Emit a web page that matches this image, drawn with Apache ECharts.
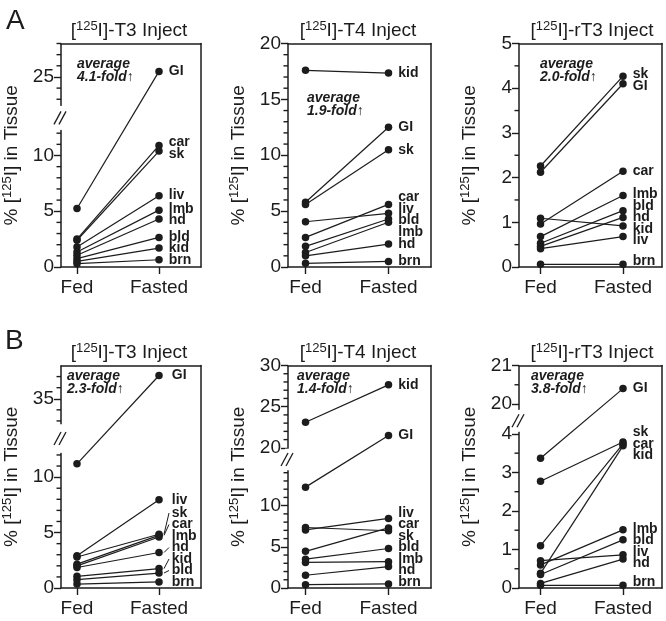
<!DOCTYPE html>
<html><head><meta charset="utf-8">
<script src="https://cdn.jsdelivr.net/npm/echarts@6/dist/echarts.min.js"></script>
<style>html,body{margin:0;padding:0;background:#fff}#c{width:666px;height:621px}</style>
</head><body><div id="c"></div>
<script>
// ---------------- data ----------------
const conditions = ['Fed', 'Fasted'];

// Panel A: T3 inject
const a1Tissues = ['GI', 'car', 'sk', 'liv', 'lmb', 'hd', 'bld', 'kid', 'brn'];
const a1Fed     = [5.25, 2.5, 2.4, 1.8, 1.35, 1.05, 0.75, 0.5, 0.3];
const a1Fasted  = [25.5, 10.9, 10.4, 6.4, 5.1, 4.3, 2.65, 1.7, 0.65];
const a1Fold = '4.1';
const a1Major = [0, 5, 10, 25];
const a1Minor = [1, 2, 3, 4, 6, 7, 8, 9, 11, 12, 23, 24, 26, 27, 28];

// Panel A: T4 inject
const a2Tissues = ['kid', 'GI', 'sk', 'car', 'liv', 'bld', 'lmb', 'hd', 'brn'];
const a2Fed     = [17.6, 5.8, 5.6, 2.65, 4.05, 1.85, 1.3, 1.0, 0.33];
const a2Fasted  = [17.35, 12.5, 10.5, 5.6, 4.8, 4.3, 4.0, 2.05, 0.5];
const a2Fold = '1.9';
const a2Major = [0, 5, 10, 15, 20];
const a2Minor = [1, 2, 3, 4, 6, 7, 8, 9, 11, 12, 13, 14, 16, 17, 18, 19];

// Panel A: rT3 inject
const a3Tissues = ['sk', 'GI', 'car', 'lmb', 'bld', 'hd', 'kid', 'liv', 'brn'];
const a3Fed     = [2.26, 2.12, 0.96, 0.68, 0.53, 0.46, 1.09, 0.41, 0.06];
const a3Fasted  = [4.27, 4.10, 2.14, 1.60, 1.26, 1.11, 0.92, 0.68, 0.06];
const a3Fold = '2.0';
const a3Major = [0, 1, 2, 3, 4, 5];
const a3Minor = [0.5, 1.5, 2.5, 3.5, 4.5];

// Panel B: T3 inject
const b1Tissues = ['GI', 'liv', 'sk', 'car', 'lmb', 'hd', 'kid', 'bld', 'brn'];
const b1Fed     = [11.2, 2.9, 2.8, 2.15, 2.0, 1.85, 1.05, 0.75, 0.35];
const b1Fasted  = [37.1, 7.95, 4.85, 4.75, 4.6, 3.2, 1.75, 1.35, 0.55];
const b1Fold = '2.3';
const b1Major = [0, 5, 10, 35];
const b1Minor = [1, 2, 3, 4, 6, 7, 8, 9, 11, 12, 33, 34, 36, 37];

// Panel B: T4 inject
const b2Tissues = ['kid', 'GI', 'liv', 'car', 'sk', 'bld', 'lmb', 'hd', 'brn'];
const b2Fed     = [23.1, 12.25, 7.05, 4.45, 7.35, 3.5, 3.1, 1.55, 0.4];
const b2Fasted  = [27.65, 21.5, 8.45, 7.3, 6.95, 4.8, 3.2, 2.6, 0.5];
const b2Fold = '1.4';
const b2Major = [0, 5, 10, 20, 25, 30];
const b2Minor = [1, 2, 3, 4, 6, 7, 8, 9, 11, 12, 13, 14, 21, 22, 23, 24, 26, 27, 28, 29];

// Panel B: rT3 inject
const b3Tissues = ['GI', 'sk', 'car', 'kid', 'lmb', 'bld', 'liv', 'hd', 'brn'];
const b3Fed     = [3.37, 2.77, 1.10, 0.38, 0.60, 0.35, 0.71, 0.12, 0.07];
const b3Fasted  = [20.4, 3.79, 3.74, 3.69, 1.51, 1.25, 0.86, 0.75, 0.07];
const b3Fold = '3.8';
const b3Major = [0, 1, 2, 3, 4, 20, 21];
const b3Minor = [0.5, 1.5, 2.5, 3.5, 20.5];

const tracers = ['T3', 'T4', 'rT3', 'T3', 'T4', 'rT3'];

// ---------------- layout (positions / styles) ----------------
const FONT = '"Liberation Sans", Arial, Helvetica, sans-serif';
const INK = '#1c1c1c';
const LABEL_GAP = 11.5;
const panels = [
  {tissues: a1Tissues, fed: a1Fed, fasted: a1Fasted, fold: a1Fold, major: a1Major, minor: a1Minor},
  {tissues: a2Tissues, fed: a2Fed, fasted: a2Fasted, fold: a2Fold, major: a2Major, minor: a2Minor},
  {tissues: a3Tissues, fed: a3Fed, fasted: a3Fasted, fold: a3Fold, major: a3Major, minor: a3Minor},
  {tissues: b1Tissues, fed: b1Fed, fasted: b1Fasted, fold: b1Fold, major: b1Major, minor: b1Minor},
  {tissues: b2Tissues, fed: b2Fed, fasted: b2Fasted, fold: b2Fold, major: b2Major, minor: b2Minor},
  {tissues: b3Tissues, fed: b3Fed, fasted: b3Fasted, fold: b3Fold, major: b3Major, minor: b3Minor}
];
const cols = [
  {left: 61, width: 140, xMin: -0.195, xMax: 1.512, cx: 129},
  {left: 288, width: 143, xMin: -0.211, xMax: 1.512, cx: 358},
  {left: 519, width: 143, xMin: -0.261, xMax: 1.473, cx: 592}
];
const rows = [
  {top: 43.5, height: 223.5, headY: 20},
  {top: 365.5, height: 222.5, headY: 342}
];
const layout = [
  {yMax: 28, brk: {start: 12.3, end: 22.4, gap: '10.7%'}, avg: [77, 58], leader: false},
  {yMax: 20, brk: null, avg: [307, 92], leader: false},
  {yMax: 5, brk: null, avg: [540, 58], leader: false},
  {yMax: 38, brk: {start: 12.2, end: 32.7, gap: '12.8%'}, avg: [67, 370], leader: true},
  {yMax: 30, brk: {start: 14.3, end: 19.9, gap: '9.7%'}, avg: [297, 370], leader: false},
  {yMax: 21, brk: {start: 4.06, end: 19.85, gap: '9.8%'}, avg: [531, 370], leader: false}
];
const MINOR_LEN = 4.5;

const supRich = {sup: {fontSize: 13, fontFamily: FONT, color: INK, verticalAlign: 'top', lineHeight: 13}};

const grid = [], xAxis = [], yAxis = [], series = [], texts = [], seriesStart = [];
panels.forEach((p, i) => {
  const C = cols[i % 3], R = rows[Math.floor(i / 3)], L = layout[i];
  grid.push({left: C.left, top: R.top, width: C.width, height: R.height});
  const line = {show: true, onZero: false, lineStyle: {color: INK, width: 1.5}};
  xAxis.push({
    gridIndex: i, type: 'value', min: C.xMin, max: C.xMax, position: 'bottom',
    axisLine: line,
    axisTick: {show: true, customValues: [0, 1], length: 7, lineStyle: {color: INK, width: 1.4}},
    axisLabel: {show: true, customValues: [0, 1], formatter: v => conditions[Math.round(v)],
      fontSize: 19, color: INK, fontFamily: FONT, margin: 11},
    splitLine: {show: false}
  });
  xAxis.push({
    gridIndex: i, type: 'value', min: 0, max: 1, position: 'top',
    axisLine: line, axisTick: {show: false}, axisLabel: {show: false}, splitLine: {show: false}
  });
  const yBase = {gridIndex: i, type: 'value', min: 0, max: L.yMax, splitLine: {show: false}};
  if (L.brk) { yBase.breaks = [L.brk]; yBase.breakArea = {show: false}; }
  yAxis.push(Object.assign({}, yBase, {
    position: 'left', axisLine: line,
    axisTick: {show: true, customValues: p.major, length: 7, lineStyle: {color: INK, width: 1.4}},
    axisLabel: {show: true, customValues: p.major, fontSize: 19, color: INK, fontFamily: FONT, margin: 7},
    name: '% [{sup|125}I] in Tissue', nameLocation: 'middle', nameGap: 38,
    nameTextStyle: {fontSize: 19, color: INK, fontFamily: FONT, lineHeight: 22, rich: supRich}
  }));
  yAxis.push({
    gridIndex: i, type: 'value', min: 0, max: 1, position: 'right',
    axisLine: line, axisTick: {show: false}, axisLabel: {show: false}, splitLine: {show: false}
  });
  seriesStart.push(series.length);
  p.tissues.forEach((t, k) => {
    series.push({
      type: 'line', name: t, xAxisIndex: 2 * i, yAxisIndex: 2 * i,
      data: [[0, p.fed[k]], {value: [1, p.fasted[k]], label: {show: true, offset: [0, 0]}}],
      symbol: 'circle', symbolSize: 7.5, showSymbol: true,
      itemStyle: {color: INK}, lineStyle: {color: INK, width: 1.2},
      label: {show: false, position: 'right', distance: 6, formatter: '{a}',
        fontSize: 14, fontWeight: 'bold', fontFamily: FONT, color: INK, lineHeight: 12},
      emphasis: {disabled: true}, animation: false, silent: true
    });
  });
  texts.push({
    type: 'text', x: C.cx, y: R.headY, z: 50,
    style: {text: '[{sup|125}I]-' + tracers[i] + ' Inject', fontSize: 19, fontFamily: FONT, fill: INK,
      align: 'center', lineHeight: 22, rich: {sup: {fontSize: 13, fontFamily: FONT, fill: INK, verticalAlign: 'top', lineHeight: 13}}}
  });
  texts.push({
    type: 'text', x: L.avg[0], y: L.avg[1], z: 50,
    style: {text: 'average\n' + p.fold + '-fold\u2191', font: 'italic bold 14px ' + FONT, fill: INK, lineHeight: 13}
  });
});
texts.push({type: 'text', x: 6, y: 7, z: 50, style: {text: 'A', font: '28px ' + FONT, fill: INK}});
texts.push({type: 'text', x: 5, y: 327, z: 50, style: {text: 'B', font: '28px ' + FONT, fill: INK}});

const chart = echarts.init(document.getElementById('c'));
chart.setOption({
  animation: false, backgroundColor: '#fff',
  textStyle: {fontFamily: FONT},
  grid, xAxis, yAxis, series
});

// pixel y of a value on panel i's y axis (through the cartesian's own scale)
function yPix(i, v) {
  const pt = chart.convertToPixel({xAxisIndex: 2 * i, yAxisIndex: 2 * i}, [0, v]);
  return pt ? pt[1] : NaN;
}

const marks = [];
// ---- minor ticks, placed with the y axis scale ----
panels.forEach((p, i) => {
  const C = cols[i % 3];
  p.minor.forEach(v => {
    const y = yPix(i, v);
    if (!isFinite(y)) return;
    marks.push({type: 'line', z: 30, silent: true,
      shape: {x1: C.left - MINOR_LEN, y1: y, x2: C.left, y2: y},
      style: {stroke: INK, lineWidth: 1.4}});
  });
});

// ---- label de-overlap (positions derived from the axis scales) ----
panels.forEach((p, i) => {
  const R = rows[Math.floor(i / 3)], L = layout[i];
  const pts = p.tissues.map((t, k) => {
    const px = chart.convertToPixel({xAxisIndex: 2 * i, yAxisIndex: 2 * i}, [1, p.fasted[k]]);
    return {k, x: px[0], y: px[1]};
  });
  const sorted = pts.slice().sort((a, b) => a.y - b.y);
  const pos = sorted.map(o => o.y);
  const minY = R.top + 7, maxY = R.top + R.height - 6;
  for (let it = 0; it < 400; it++) {
    for (let j = 0; j < pos.length - 1; j++) {
      const d = pos[j + 1] - pos[j];
      if (d < LABEL_GAP) { const m = (LABEL_GAP - d) / 2; pos[j] -= m; pos[j + 1] += m; }
    }
    for (let j = 0; j < pos.length; j++) pos[j] = Math.min(maxY, Math.max(minY, pos[j]));
  }
  sorted.forEach((o, j) => { o.ly = pos[j]; });
  pts.forEach(o => {
    const s = series[seriesStart[i] + o.k];
    const dy = o.ly - o.y;
    s.data[1].label.offset = [L.leader ? 3 : 0, dy];
    if (L.leader && Math.abs(dy) > 2.5) {
      marks.push({type: 'line', z: 40, silent: true,
        shape: {x1: o.x + 5, y1: o.y, x2: o.x + 10, y2: o.ly},
        style: {stroke: INK, lineWidth: 1}});
    }
  });
});

// ---- axis break marks "//" ----
panels.forEach((p, i) => {
  const L = layout[i]; if (!L.brk) return;
  const C = cols[i % 3], R = rows[Math.floor(i / 3)];
  let y1 = yPix(i, L.brk.start);
  let y2 = yPix(i, L.brk.end);
  if (!isFinite(y1) || !isFinite(y2) || Math.abs(y1 - y2) < 2) {
    const g = parseFloat(L.brk.gap) / 100;
    const ppu = R.height * (1 - g) / (L.yMax - (L.brk.end - L.brk.start));
    y1 = R.top + R.height - L.brk.start * ppu;
    y2 = y1 - R.height * g;
  }
  const gx = C.left, ym = (y1 + y2) / 2;
  marks.push({type: 'rect', z: 60, silent: true, shape: {x: gx - 3, y: Math.min(y1, y2), width: 6, height: Math.abs(y1 - y2)}, style: {fill: '#fff'}});
  [-2.5, 2.5].forEach(d => marks.push({
    type: 'line', z: 61, silent: true,
    shape: {x1: gx - 1 + d - 3.5, y1: ym + 6.5, x2: gx - 1 + d + 3.5, y2: ym - 6.5},
    style: {stroke: INK, lineWidth: 1.3}
  }));
});
chart.setOption({series: series.map(s => ({data: s.data})), graphic: texts.concat(marks)});
</script>
</body></html>
